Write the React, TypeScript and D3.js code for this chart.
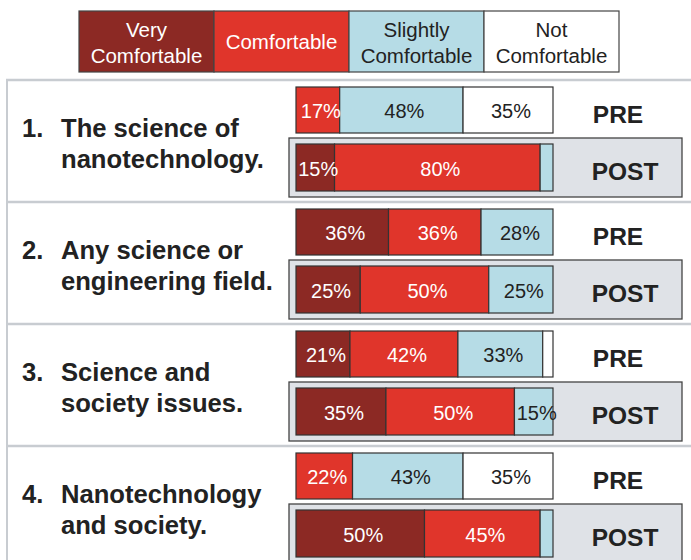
import React from 'react';
import * as d3 from 'd3';

const categories = ["Very Comfortable", "Comfortable", "Slightly Comfortable", "Not Comfortable"];
const legendLines = [["Very", "Comfortable"], ["Comfortable"], ["Slightly", "Comfortable"], ["Not", "Comfortable"]];
const colors = ["#8c2924", "#e0352b", "#b6dce6", "#ffffff"];
const textColors = ["#ffffff", "#ffffff", "#222222", "#222222"];
const questionNumbers = ["1.", "2.", "3.", "4."];
const questionLines = [
  ["The science of", "nanotechnology."],
  ["Any science or", "engineering field."],
  ["Science and", "society issues."],
  ["Nanotechnology", "and society."],
];
const preValues = [
  [0, 17, 48, 35],
  [36, 36, 28, 0],
  [21, 42, 33, 4],
  [0, 22, 43, 35],
];
const postValues = [
  [15, 80, 5, 0],
  [25, 50, 25, 0],
  [35, 50, 15, 0],
  [50, 45, 5, 0],
];
const rowLabels = ["PRE", "POST"];

const FONT = "'Liberation Sans', Arial, Helvetica, sans-serif";

function Bar({ values, y, h, x }: { values: number[]; y: number; h: number; x: d3.ScaleLinear<number, number> }) {
  let cum = 0;
  const segs = values.map((v, i) => {
    const s = { i, v, x0: x(cum), x1: x(cum + v) };
    cum += v;
    return s;
  });
  return (
    <g>
      {segs.map((s) => (
        <rect key={"r" + s.i} x={s.x0} y={y} width={Math.max(0, s.x1 - s.x0)} height={h}
          fill={colors[s.i]} stroke="#333" strokeWidth={1.2} />
      ))}
      {segs.filter((s) => s.v >= 10).map((s) => (
        <text key={"t" + s.i} x={(s.x0 + s.x1) / 2 + 3} y={y + h / 2 + 8} textAnchor="middle"
          fontSize={20} fontFamily={FONT} fill={textColors[s.i]}>{s.v}%</text>
      ))}
    </g>
  );
}

export default function App() {
  const W = 691, H = 560;
  const x = d3.scaleLinear().domain([0, 100]).range([296, 553]);
  const yBand = d3.scaleBand<string>().domain(questionNumbers).range([80, 80 + 4 * 122]);
  const legendX = d3.scaleBand<string>().domain(categories).range([79, 619]);

  return (
    <svg width={W} height={H} style={{ position: 'absolute', left: 0, top: 0, background: '#fff' }}>
      {categories.map((c, i) => {
        const lx = legendX(c)!;
        const bw = legendX.bandwidth();
        const lines = legendLines[i];
        const baselines = lines.length === 2 ? [37, 63] : [49];
        return (
          <g key={c}>
            <rect x={lx} y={11} width={bw} height={61} fill={colors[i]} stroke="#444" strokeWidth={1.2} />
            {lines.map((l, j) => (
              <text key={j} x={lx + bw / 2} y={baselines[j]} textAnchor="middle" fontSize={20.5}
                fontFamily={FONT} fill={textColors[i]}>{l}</text>
            ))}
          </g>
        );
      })}
      <line x1={7} x2={7} y1={79} y2={H} stroke="#c8ccd1" strokeWidth={2} />
      {questionNumbers.map((q, k) => {
        const y0 = yBand(q)!;
        return (
          <g key={q}>
            <line x1={6} x2={W} y1={y0} y2={y0} stroke="#c8ccd1" strokeWidth={2.5} />
            <text x={22} y={y0 + 57} fontSize={25.6} fontWeight="bold" fontFamily={FONT} fill="#222">{q}</text>
            {questionLines[k].map((l, j) => (
              <text key={j} x={61} y={y0 + 57 + j * 31} fontSize={25.6} fontWeight="bold" fontFamily={FONT} fill="#222">{l}</text>
            ))}
            <Bar values={preValues[k]} y={y0 + 7} h={46} x={x} />
            <rect x={289} y={y0 + 58} width={393} height={59} fill="#dfe2e7" stroke="#444" strokeWidth={1.3} />
            <Bar values={postValues[k]} y={y0 + 64} h={47} x={x} />
            <text x={618} y={y0 + 43} textAnchor="middle" fontSize={24.5} fontWeight="bold" fontFamily={FONT} fill="#222">{rowLabels[0]}</text>
            <text x={625} y={y0 + 100} textAnchor="middle" fontSize={24.5} fontWeight="bold" fontFamily={FONT} fill="#222">{rowLabels[1]}</text>
          </g>
        );
      })}
    </svg>
  );
}
